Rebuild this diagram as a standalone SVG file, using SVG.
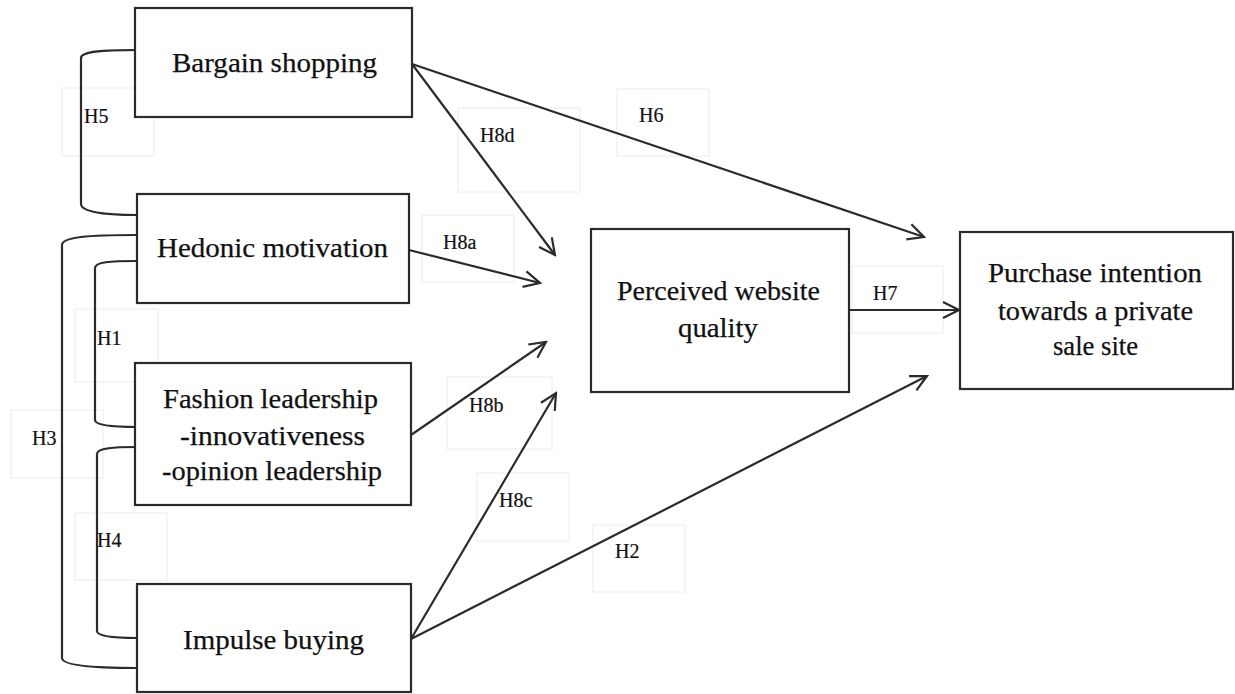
<svg xmlns="http://www.w3.org/2000/svg" width="1235" height="694" viewBox="0 0 1235 694">
  <defs>
    <style>
      .box { fill: #ffffff; stroke: #2b2b2b; stroke-width: 2.2; }
      .txt { font-family: "Liberation Serif", "Times New Roman", serif; font-size: 27px; fill: #111111; text-anchor: middle; stroke: #111111; stroke-width: 0.25; }
      .lbl { font-family: "Liberation Serif", "Times New Roman", serif; font-size: 20px; fill: #111111; stroke: #111111; stroke-width: 0.2; }
      .lblbox { fill: none; stroke: #ececec; stroke-width: 1; }
      .link { fill: none; stroke: #2b2b2b; stroke-width: 2.2; }
      .arrow { marker-end: url(#open-arrow); }
    </style>
    <marker id="open-arrow" viewBox="0 0 20 20" refX="18" refY="10" markerWidth="20" markerHeight="20" markerUnits="userSpaceOnUse" orient="auto">
      <path d="M2,2 L18,10 L2,18" fill="none" stroke="#2b2b2b" stroke-width="2.2"/>
    </marker>
  </defs>

  <rect width="1235" height="694" fill="#ffffff"/>

  <!-- label frames -->
  <g id="label-frames">
    <rect class="lblbox" x="62" y="88" width="92" height="68"/>
    <rect class="lblbox" x="75" y="309" width="83" height="73"/>
    <rect class="lblbox" x="11" y="410" width="92" height="68"/>
    <rect class="lblbox" x="75" y="513" width="92" height="67"/>
    <rect class="lblbox" x="458" y="108" width="122" height="84"/>
    <rect class="lblbox" x="617" y="89" width="92" height="67"/>
    <rect class="lblbox" x="422" y="215" width="92" height="67"/>
    <rect class="lblbox" x="447" y="377" width="105" height="72"/>
    <rect class="lblbox" x="477" y="473" width="92" height="68"/>
    <rect class="lblbox" x="593" y="525" width="92" height="67"/>
    <rect class="lblbox" x="852" y="266" width="91" height="67"/>
  </g>

  <!-- connectors -->
  <g id="connectors">
    <!-- correlation brackets on the left -->
    <path class="link" d="M137,50 C105,50 81,51 81,58 L81,204 C81,212 105,215 137,215"/>
    <path class="link" d="M137,235 C88,235 62,237 62,245 L62,658 C62,665 88,668 137,668"/>
    <path class="link" d="M137,261 C110,261 95,262 95,268 L95,420 C95,425 110,427 137,427"/>
    <path class="link" d="M137,447 C114,447 97,448 97,454 L97,631 C97,636 114,638 137,638"/>
    <!-- directed paths -->
    <line class="link arrow" x1="412" y1="64" x2="555" y2="255"/>
    <line class="link arrow" x1="412" y1="64" x2="924" y2="237"/>
    <line class="link arrow" x1="409" y1="250" x2="540" y2="283"/>
    <line class="link arrow" x1="411" y1="435" x2="546" y2="342"/>
    <line class="link arrow" x1="411" y1="639" x2="556" y2="393"/>
    <line class="link arrow" x1="411" y1="639" x2="927" y2="376"/>
    <line class="link arrow" x1="849" y1="310" x2="959" y2="310"/>
  </g>

  <!-- hypothesis labels -->
  <g id="labels">
    <text class="lbl" x="84" y="123">H5</text>
    <text class="lbl" x="97" y="345">H1</text>
    <text class="lbl" x="32" y="445">H3</text>
    <text class="lbl" x="97" y="547">H4</text>
    <text class="lbl" x="480" y="142">H8d</text>
    <text class="lbl" x="639" y="122">H6</text>
    <text class="lbl" x="443" y="249">H8a</text>
    <text class="lbl" x="469" y="412">H8b</text>
    <text class="lbl" x="499" y="507">H8c</text>
    <text class="lbl" x="615" y="558">H2</text>
    <text class="lbl" x="873" y="300">H7</text>
  </g>

  <g id="bargain-shopping">
    <rect class="box" x="135" y="8" width="277" height="109"/>
    <text class="txt" x="274.5" y="72" textLength="205" lengthAdjust="spacingAndGlyphs">Bargain shopping</text>
  </g>

  <g id="hedonic-motivation">
    <rect class="box" x="137" y="194" width="272" height="109"/>
    <text class="txt" x="272.5" y="257" textLength="231" lengthAdjust="spacingAndGlyphs">Hedonic motivation</text>
  </g>

  <g id="fashion-leadership">
    <rect class="box" x="135" y="363" width="276" height="142"/>
    <text class="txt" x="270.5" y="408" textLength="215" lengthAdjust="spacingAndGlyphs">Fashion leadership</text>
    <text class="txt" x="272.5" y="445" textLength="185" lengthAdjust="spacingAndGlyphs">-innovativeness</text>
    <text class="txt" x="272" y="480" textLength="220" lengthAdjust="spacingAndGlyphs">-opinion leadership</text>
  </g>

  <g id="impulse-buying">
    <rect class="box" x="137" y="584" width="274" height="108"/>
    <text class="txt" x="273.5" y="649" textLength="181" lengthAdjust="spacingAndGlyphs">Impulse buying</text>
  </g>

  <g id="perceived-website-quality">
    <rect class="box" x="591" y="229" width="258" height="163"/>
    <text class="txt" x="718.5" y="300" textLength="203" lengthAdjust="spacingAndGlyphs">Perceived website</text>
    <text class="txt" x="718" y="337" textLength="80" lengthAdjust="spacingAndGlyphs">quality</text>
  </g>

  <g id="purchase-intention">
    <rect class="box" x="960" y="232" width="273" height="157"/>
    <text class="txt" x="1095" y="282" textLength="214" lengthAdjust="spacingAndGlyphs">Purchase intention</text>
    <text class="txt" x="1095.5" y="320" textLength="195" lengthAdjust="spacingAndGlyphs">towards a private</text>
    <text class="txt" x="1095.5" y="355" textLength="85" lengthAdjust="spacingAndGlyphs">sale site</text>
  </g>
</svg>
